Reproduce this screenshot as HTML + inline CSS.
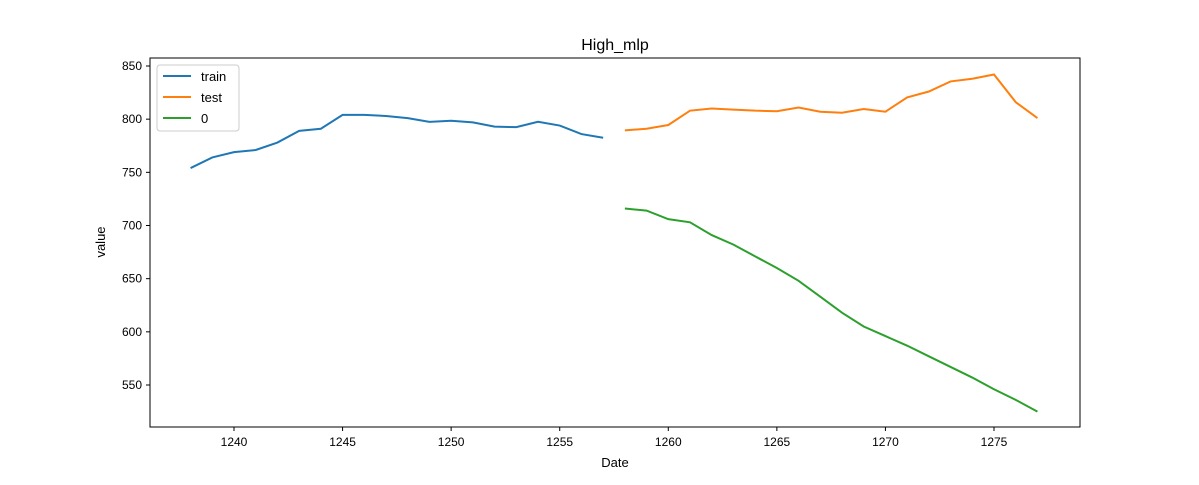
<!DOCTYPE html>
<html><head><meta charset="utf-8"><style>
body{margin:0;background:#fff;}
svg text{font-family:"Liberation Sans","DejaVu Sans",sans-serif;fill:#000;}
</style></head><body>
<svg id="chart" width="1199" height="480">
<text x="615" y="50" font-size="16" text-anchor="middle">High_mlp</text>
<rect x="150" y="58" width="930" height="369" fill="none" stroke="#000" stroke-width="1"/>
<g id="xt"></g><g id="yt"></g><g id="lines"></g>
<text x="615" y="467" font-size="13" text-anchor="middle">Date</text>
<text x="105" y="242" font-size="13" text-anchor="middle" transform="rotate(-90 105 242)">value</text>
<g>
<rect x="157" y="65" width="82" height="66" fill="#fff" stroke="#ccc" rx="3"/>
<g><line x1="163" y1="76" x2="191" y2="76" stroke="#1f77b4" stroke-width="2"/><text x="201" y="81" font-size="13">train</text></g>
<g><line x1="163" y1="97" x2="191" y2="97" stroke="#ff7f0e" stroke-width="2"/><text x="201" y="102" font-size="13">test</text></g>
<g><line x1="163" y1="118" x2="191" y2="118" stroke="#2ca02c" stroke-width="2"/><text x="201" y="123" font-size="13">0</text></g>
</g>
</svg>
<script>
const trainX=[1238,1239,1240,1241,1242,1243,1244,1245,1246,1247,1248,1249,1250,1251,1252,1253,1254,1255,1256,1257];
const trainY=[754,764,769,771,778,789,791,804,804,803,801,797.5,798.5,797,793,792.5,797.5,794,786,782.5];
const testX=[1258,1259,1260,1261,1262,1263,1264,1265,1266,1267,1268,1269,1270,1271,1272,1273,1274,1275,1276,1277];
const testY=[789.5,791,794.5,808,810,809,808,807.5,811,807,806,809.5,807,820.5,826,835.5,838,842,816,801];
const zeroY=[716,714,706,703,691,682,671,660,648,633,618,605,596,587,577,567,557,546,536,525];
const xTicks=[1240,1245,1250,1255,1260,1265,1270,1275];
const yTicks=[550,600,650,700,750,800,850];
const NS="http://www.w3.org/2000/svg";
function xs(v){return 234+(v-1240)*(760/35);}
function ys(v){return 66+(850-v)*(319/300);}
function mk(t,a,p){const e=document.createElementNS(NS,t);for(const k in a)e.setAttribute(k,a[k]);p.appendChild(e);return e;}
const xt=document.getElementById('xt'),yt=document.getElementById('yt'),lg=document.getElementById('lines');
xTicks.forEach(v=>{const g=mk('g',{},xt);


mk('line',{x1:xs(v),x2:xs(v),y1:427,y2:431,stroke:'#000'},g);
const t=mk('text',{x:xs(v),y:446,'font-size':12,'text-anchor':'middle'},g);t.textContent=v;});
yTicks.forEach(v=>{const g=mk('g',{},yt);


mk('line',{x1:146,x2:150,y1:ys(v),y2:ys(v),stroke:'#000'},g);
const t=mk('text',{x:142,y:ys(v)+4,'font-size':12,'text-anchor':'end'},g);t.textContent=v;});
function line(X,Y,c,n){const p=mk('polyline',{points:X.map((x,i)=>xs(x)+','+ys(Y[i])).join(' '),fill:'none',stroke:c,'stroke-width':2},lg);

}
line(trainX,trainY,'#1f77b4','train-line');
line(testX,testY,'#ff7f0e','test-line');
line(testX,zeroY,'#2ca02c','zero-line');
</script>
</body></html>
